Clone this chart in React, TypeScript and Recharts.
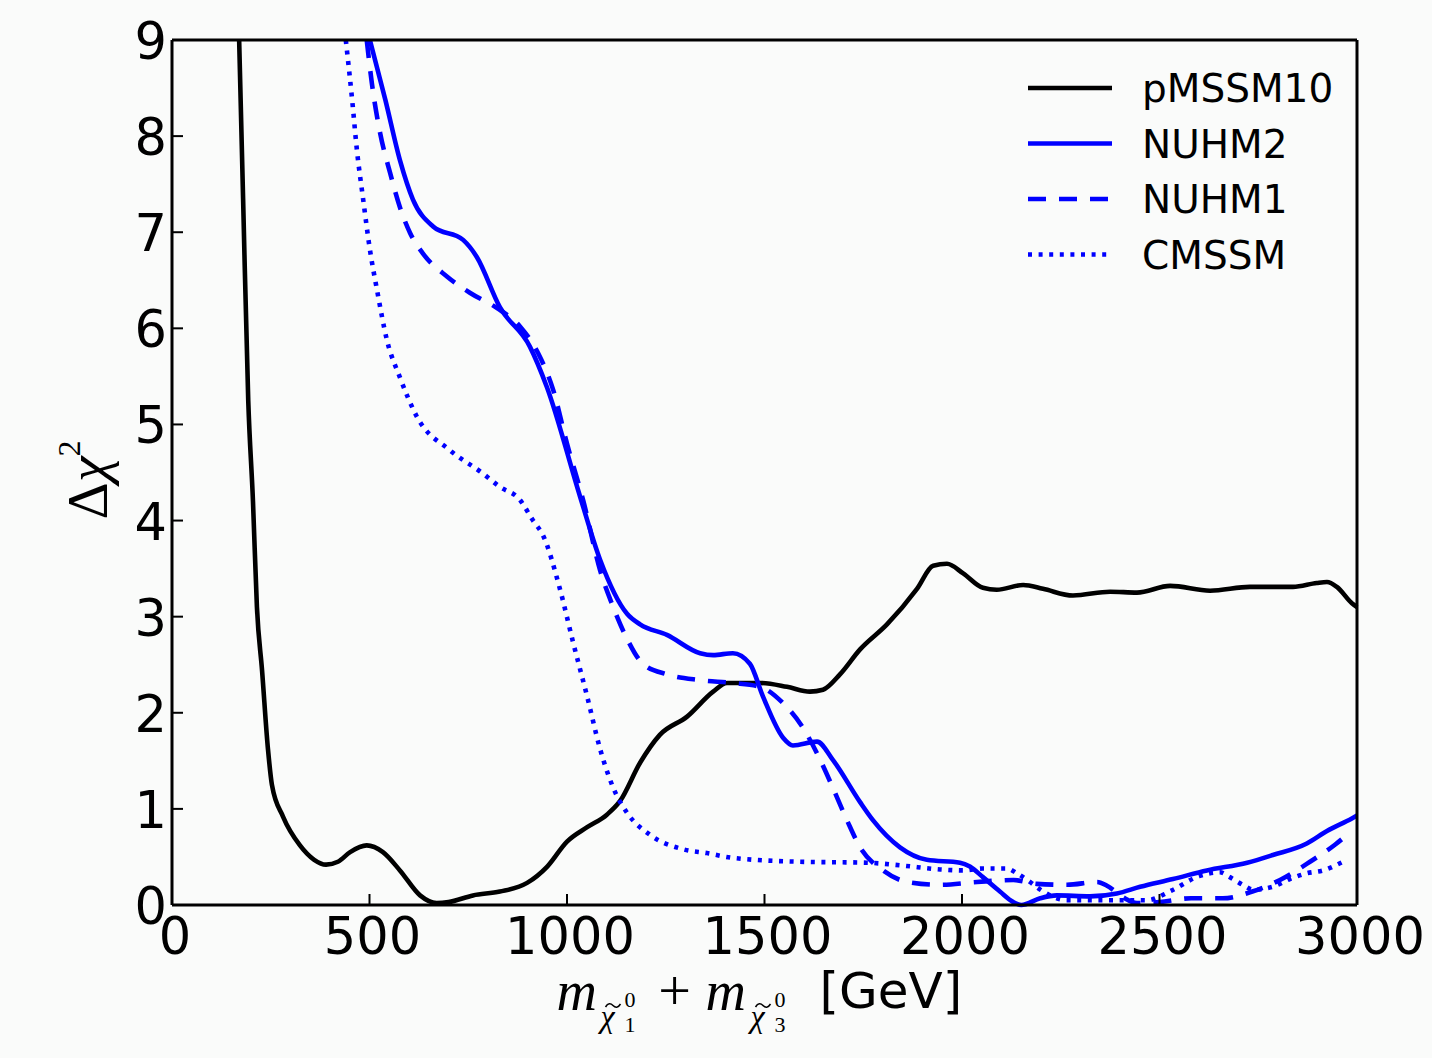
import React from 'react';
import { LineChart, Line, XAxis, YAxis, Legend } from 'recharts';

// ---------- data (m_chi1 + m_chi3 [GeV], delta chi^2) ----------
const xTicks = [0, 500, 1000, 1500, 2000, 2500, 3000];
const yTicks = [0, 1, 2, 3, 4, 5, 6, 7, 8, 9];

const pMSSM10: [number, number][] = [
  [170, 9.0], [180, 7.35], [193, 5.25], [205, 4.2], [215, 3.1], [228, 2.44], [243, 1.62],
  [253, 1.25], [281, 0.92], [324, 0.62], [360, 0.47], [390, 0.42], [420, 0.45], [451, 0.55],
  [493, 0.62], [534, 0.55], [577, 0.36], [628, 0.1], [670, 0.02], [700, 0.03], [762, 0.1],
  [830, 0.14], [899, 0.23], [950, 0.4], [1000, 0.66], [1051, 0.81], [1101, 0.94], [1134, 1.08],
  [1185, 1.48], [1235, 1.77], [1304, 1.96], [1370, 2.22], [1405, 2.31], [1489, 2.31],
  [1557, 2.27], [1615, 2.22], [1648, 2.24], [1691, 2.4], [1742, 2.66], [1810, 2.92],
  [1886, 3.29], [1927, 3.53], [1962, 3.55], [2003, 3.45], [2053, 3.3], [2088, 3.28],
  [2155, 3.33], [2205, 3.29], [2281, 3.22], [2375, 3.26], [2443, 3.25], [2527, 3.32],
  [2628, 3.27], [2729, 3.31], [2838, 3.31], [2898, 3.35], [2924, 3.36], [2949, 3.31],
  [2987, 3.14], [3000, 3.1],
];

const NUHM2: [number, number][] = [
  [501, 9.0], [540, 8.38], [577, 7.75], [610, 7.34], [661, 7.06], [737, 6.92], [772, 6.74],
  [830, 6.22], [906, 5.81], [949, 5.39], [1033, 4.25], [1084, 3.59], [1152, 3.03], [1185, 2.92],
  [1253, 2.81], [1337, 2.62], [1370, 2.6], [1420, 2.62], [1463, 2.51], [1496, 2.17],
  [1547, 1.74], [1572, 1.66], [1633, 1.7], [1673, 1.51], [1742, 1.07], [1775, 0.88],
  [1843, 0.6], [1911, 0.47], [1995, 0.44], [2020, 0.4], [2053, 0.29], [2096, 0.14],
  [2130, 0.03], [2150, 0.0], [2198, 0.07], [2240, 0.1], [2324, 0.09], [2392, 0.12],
  [2451, 0.19], [2534, 0.27], [2620, 0.36], [2722, 0.44], [2787, 0.52], [2873, 0.64],
  [2924, 0.77], [2987, 0.9], [3000, 0.93],
];

const NUHM1: [number, number][] = [
  [493, 9.0], [506, 8.55], [527, 8.03], [552, 7.62], [577, 7.26], [603, 6.99], [635, 6.78],
  [696, 6.54], [754, 6.37], [823, 6.21], [881, 6.02], [927, 5.74], [965, 5.36], [1000, 4.8],
  [1041, 4.21], [1084, 3.48], [1117, 3.1], [1152, 2.77], [1192, 2.51], [1253, 2.4],
  [1337, 2.34], [1420, 2.31], [1489, 2.27], [1547, 2.1], [1598, 1.84], [1641, 1.51],
  [1673, 1.22], [1709, 0.88], [1742, 0.6], [1800, 0.36], [1861, 0.24], [1944, 0.21],
  [2038, 0.24], [2130, 0.26], [2189, 0.22], [2266, 0.21], [2342, 0.24], [2367, 0.2],
  [2408, 0.08], [2443, 0.02], [2500, 0.03], [2580, 0.07], [2660, 0.07], [2735, 0.14],
  [2805, 0.26], [2881, 0.45], [2945, 0.63], [2975, 0.73],
];

const CMSSM: [number, number][] = [
  [440, 9.0], [456, 8.38], [468, 7.86], [484, 7.34], [501, 6.82], [519, 6.4], [544, 5.88],
  [577, 5.49], [620, 5.08], [704, 4.73], [787, 4.49], [830, 4.35], [880, 4.22], [914, 4.0],
  [940, 3.84], [982, 3.29], [1015, 2.74], [1051, 2.17], [1084, 1.62], [1117, 1.22],
  [1152, 0.96], [1210, 0.73], [1294, 0.58], [1354, 0.54], [1420, 0.49], [1590, 0.45],
  [1759, 0.44], [1850, 0.41], [1945, 0.37], [2003, 0.36], [2053, 0.38], [2114, 0.38],
  [2139, 0.33], [2172, 0.24], [2198, 0.16], [2266, 0.05], [2367, 0.05], [2468, 0.05],
  [2530, 0.15], [2600, 0.3], [2653, 0.34], [2678, 0.29], [2711, 0.21], [2737, 0.16],
  [2787, 0.19], [2830, 0.27], [2873, 0.33], [2914, 0.36], [2965, 0.45], [2975, 0.47],
];

const toRows = (arr: [number, number][]) => arr.map(([m, chi2]) => ({ m, chi2 }));

const SERIES = [
  { name: 'pMSSM10', data: pMSSM10, color: '#000000', dash: undefined as string | undefined },
  { name: 'NUHM2', data: NUHM2, color: '#0000ff', dash: undefined as string | undefined },
  { name: 'NUHM1', data: NUHM1, color: '#0000ff', dash: '18 13' },
  { name: 'CMSSM', data: CMSSM, color: '#0000ff', dash: '4 6.6' },
];

// ---------- layout ----------
const W = 1432;
const H = 1058;
const P_LEFT = 172;
const P_TOP = 40;
const P_RIGHT = 1357;
const P_BOTTOM = 905;
const TICK_LEN = 11;
const SANS = 'DejaVu Sans, sans-serif';
const SERIF = 'Liberation Serif, DejaVu Serif, serif';
const LW = 4.6;
const TICK_FONT = 51;

const BottomTick = (props: any) => {
  const { x, y, payload } = props;
  return (
    <g>
      {payload.value !== 0 && payload.value !== 3000 && (
        <line x1={x} y1={y} x2={x} y2={y - TICK_LEN} stroke="#000" strokeWidth={2} />
      )}
      <text x={x + 3} y={y + 49} textAnchor="middle" fontSize={TICK_FONT} fontFamily={SANS} fill="#000">
        {payload.value}
      </text>
    </g>
  );
};

const TopTick = (props: any) => {
  const { x, payload } = props;
  if (payload.value === 0 || payload.value === 3000) return <g />;
  return <line x1={x} y1={P_TOP} x2={x} y2={P_TOP + TICK_LEN} stroke="#000" strokeWidth={2} />;
};

const LeftTick = (props: any) => {
  const { x, y, payload } = props;
  return (
    <g>
      {payload.value !== 0 && payload.value !== 9 && (
        <line x1={x} y1={y} x2={x + TICK_LEN} y2={y} stroke="#000" strokeWidth={2} />
      )}
      <text x={x - 5} y={y + 19} textAnchor="end" fontSize={TICK_FONT} fontFamily={SANS} fill="#000">
        {payload.value}
      </text>
    </g>
  );
};

const RightTick = (props: any) => {
  const { y, payload } = props;
  if (payload.value === 0 || payload.value === 9) return <g />;
  return <line x1={P_RIGHT} y1={y} x2={P_RIGHT - TICK_LEN} y2={y} stroke="#000" strokeWidth={2} />;
};

const Tilde = ({ x, y }: { x: number; y: number }) => (
  <path
    d={`M ${x} ${y + 2} c 2.5 -4 5 -4 7.5 -1.5 s 5 2.5 7.5 -1.5`}
    fill="none"
    stroke="#000"
    strokeWidth={1.6}
  />
);

const XAxisTitle = () => {
  const cx = (P_LEFT + P_RIGHT) / 2;
  const by = P_BOTTOM + 105;
  const it = { fontFamily: SERIF, fontStyle: 'italic' as const, fill: '#000' };
  const up = { fontFamily: SERIF, fill: '#000' };
  return (
    <g>
      <text x={cx - 208} y={by} fontSize={56} {...it}>m</text>
      <text x={cx - 164} y={by + 17} fontSize={32} {...it}>{'\u03C7'}</text>
      <Tilde x={cx - 159} y={by - 5} />
      <text x={cx - 140} y={by - 3} fontSize={22} {...up}>0</text>
      <text x={cx - 140} y={by + 22} fontSize={22} {...up}>1</text>
      <text x={cx - 90} y={by} fontSize={58} textAnchor="middle" {...up}>+</text>
      <text x={cx - 59} y={by} fontSize={56} {...it}>m</text>
      <text x={cx - 14} y={by + 17} fontSize={32} {...it}>{'\u03C7'}</text>
      <Tilde x={cx - 9} y={by - 5} />
      <text x={cx + 10} y={by - 3} fontSize={22} {...up}>0</text>
      <text x={cx + 10} y={by + 22} fontSize={22} {...up}>3</text>
      <text x={cx + 55} y={by - 2} fontSize={50} fontFamily={SANS} fill="#000">[GeV]</text>
    </g>
  );
};

const YAxisTitle = () => {
  const x = 107;
  const y = 480;
  return (
    <text
      x={x}
      y={y}
      transform={`rotate(-90, ${x}, ${y})`}
      textAnchor="middle"
      fontSize={58}
      fontFamily={SERIF}
      fill="#000"
    >
      <tspan>{'\u0394'}</tspan>
      <tspan fontStyle="italic">{'\u03C7'}</tspan>
      <tspan dy={-27} fontSize={32}>2</tspan>
    </text>
  );
};

const LegendContent = () => (
  <svg width={330} height={240} style={{ display: 'block', overflow: 'visible' }}>
    {SERIES.map((s, i) => {
      const ly = 28 + i * 55.5;
      return (
        <g key={s.name}>
          <line
            x1={8}
            y1={ly}
            x2={92}
            y2={ly}
            stroke={s.color}
            strokeWidth={LW}
            strokeDasharray={s.dash}
          />
          <text x={122} y={ly + 14} fontSize={39} fontFamily={SANS} fill="#000">
            {s.name}
          </text>
        </g>
      );
    })}
  </svg>
);

export default function App() {
  return (
    <div
      style={{
        position: 'absolute',
        left: 0,
        top: 0,
        width: W,
        height: H,
        background: '#fafbfa',
      }}
    >
      <LineChart
        width={W}
        height={H}
        margin={{ top: P_TOP - 1, right: W - P_RIGHT - 1, bottom: 0, left: 0 }}
      >
        <XAxis
          xAxisId="bottom"
          dataKey="m"
          type="number"
          domain={[0, 3000]}
          ticks={xTicks}
          orientation="bottom"
          height={H - P_BOTTOM}
          tickSize={0}
          tickMargin={0}
          tickLine={false}
          axisLine={{ stroke: '#000', strokeWidth: 3 }}
          tick={<BottomTick />}
          interval={0}
          allowDuplicatedCategory={false}
          label={<XAxisTitle />}
        />
        <XAxis
          xAxisId="top"
          dataKey="m"
          type="number"
          domain={[0, 3000]}
          ticks={xTicks}
          orientation="top"
          height={1}
          tickSize={0}
          tickMargin={0}
          tickLine={false}
          axisLine={{ stroke: '#000', strokeWidth: 3 }}
          tick={<TopTick />}
          interval={0}
        />
        <YAxis
          yAxisId="left"
          type="number"
          domain={[0, 9]}
          ticks={yTicks}
          orientation="left"
          width={P_LEFT}
          tickSize={0}
          tickMargin={0}
          tickLine={false}
          axisLine={{ stroke: '#000', strokeWidth: 3 }}
          tick={<LeftTick />}
          interval={0}
          label={<YAxisTitle />}
        />
        <YAxis
          yAxisId="right"
          type="number"
          domain={[0, 9]}
          ticks={yTicks}
          orientation="right"
          width={1}
          tickSize={0}
          tickMargin={0}
          tickLine={false}
          axisLine={{ stroke: '#000', strokeWidth: 3 }}
          tick={<RightTick />}
          interval={0}
        />
        {SERIES.map((s) => (
          <Line
            key={s.name}
            xAxisId="bottom"
            yAxisId="left"
            data={toRows(s.data)}
            dataKey="chi2"
            name={s.name}
            type="monotone"
            stroke={s.color}
            strokeWidth={LW}
            strokeDasharray={s.dash}
            dot={false}
            activeDot={false}
            isAnimationActive={false}
          />
        ))}
        <Legend
          layout="vertical"
          align="center"
          verticalAlign="middle"
          content={<LegendContent />}
          wrapperStyle={{ left: 1020, top: 60, width: 330, height: 240 }}
        />
      </LineChart>
    </div>
  );
}
